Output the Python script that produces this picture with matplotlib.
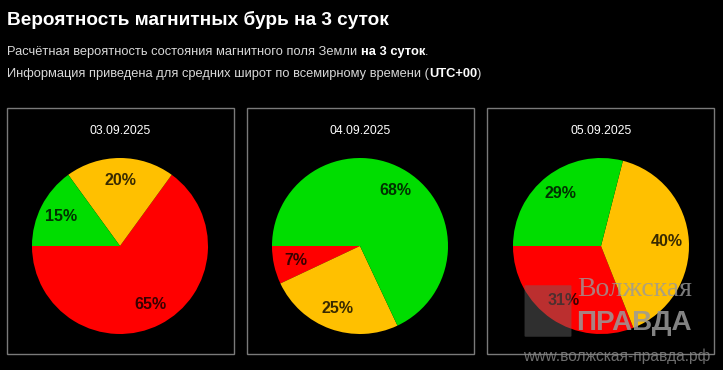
import matplotlib
matplotlib.use("Agg")
import matplotlib.pyplot as plt
from matplotlib.patches import Rectangle, FancyBboxPatch

# ---- data ----
dates = ["03.09.2025", "04.09.2025", "05.09.2025"]
red_vals = [65, 7, 31]      # storm
yellow_vals = [20, 25, 40]  # disturbed
green_vals = [15, 68, 29]   # quiet
colors = ["#ff0000", "#ffc000", "#00dd00"]

title = "Вероятность магнитных бурь на 3 суток"
sub1_parts = [("Расчётная вероятность состояния магнитного поля Земли ", "normal", "#d8d8d8"),
              ("на 3 суток", "bold", "white"),
              (".", "normal", "#d8d8d8")]
sub2_parts = [("Информация приведена для средних широт по всемирному времени (", "normal", "#d8d8d8"),
              ("UTC+00", "bold", "white"),
              (")", "normal", "#d8d8d8")]

W, H = 723, 370
fig = plt.figure(figsize=(W / 100, H / 100), dpi=100, facecolor="black")
plt.rcParams["font.family"] = ["Liberation Sans", "DejaVu Sans"]

def fx(x): return x / W
def fy(y): return 1 - y / H

fig.text(fx(7), fy(20), title, color="white", fontsize=13.7, fontweight="bold",
         va="center", ha="left")

renderer = fig.canvas.get_renderer()

def parts_line(parts, x0, y):
    x = x0
    for txt, wt, col in parts:
        t = fig.text(fx(x), fy(y), txt, color=col, fontsize=9.3, fontweight=wt,
                     va="center", ha="left")
        bb = t.get_window_extent(renderer=renderer)
        x += bb.width

parts_line(sub1_parts, 7, 52)
parts_line(sub2_parts, 7, 74)

panel_lefts = [7, 247, 487]
panel_w = 227
panel_top, panel_bot = 108, 354
centers = [120, 360, 601]
cy = 246
R = 88

for i in range(3):
    x0 = panel_lefts[i]
    fig.patches.append(Rectangle((fx(x0), fy(panel_bot)), fx(panel_w), (panel_bot - panel_top) / H,
                                 transform=fig.transFigure, fill=False,
                                 edgecolor="#7a7a7a", linewidth=1.0))
    fig.text(fx(centers[i]), fy(130.5), dates[i], color="white", fontsize=8.7,
             ha="center", va="center")
    ax = fig.add_axes([fx(centers[i] - R), fy(cy + R), 2 * R / W, 2 * R / H])
    ax.set_facecolor("none")
    vals = [red_vals[i], yellow_vals[i], green_vals[i]]
    wedges, texts, autotexts = ax.pie(vals, colors=colors, startangle=180, counterclock=True,
                                      autopct="%d%%", pctdistance=0.75, radius=1,
                                      wedgeprops=dict(linewidth=0))
    for at in autotexts:
        at.set_color("black")
        at.set_alpha(0.78)
        at.set_fontweight("bold")
        at.set_fontsize(11.5)
    ax.set_xlim(-1, 1)
    ax.set_ylim(-1, 1)
    ax.set_aspect("equal")
    ax.axis("off")

# ---- watermark ----
fig.patches.append(FancyBboxPatch((fx(526), fy(336)), fx(44), 50 / H,
                                  boxstyle="round,pad=0.002", transform=fig.transFigure,
                                  facecolor="#6a6a6a", edgecolor="none", alpha=0.45))
fig.text(fx(577), fy(289), "Волжская", color="#9a9a9a", alpha=0.8, fontsize=20,
         family=["Liberation Serif", "DejaVu Serif"], ha="left", va="center")
fig.text(fx(576), fy(323), "ПРАВДА", color="#9a9a9a", alpha=0.85, fontsize=20,
         fontweight="bold", family=["Liberation Sans", "DejaVu Sans"],
         ha="left", va="center")
fig.text(fx(523), fy(356), "www.волжская-правда.рф", color="#8a8a8a", alpha=0.8,
         fontsize=11.2, ha="left", va="center")

fig.savefig("out.png", dpi=100, facecolor="black")
